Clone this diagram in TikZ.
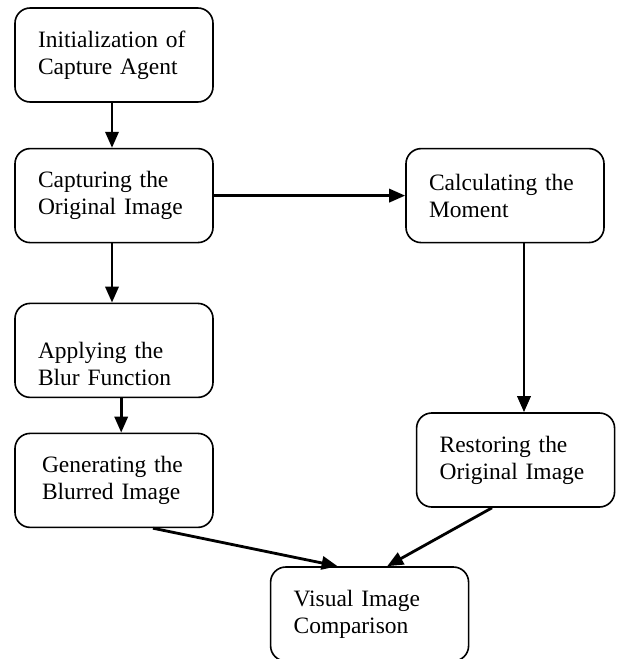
\documentclass[tikz,border=0pt]{standalone}
\usepackage{fontspec}
\setmainfont{Liberation Serif}
\usetikzlibrary{arrows.meta}

\begin{document}
\begin{tikzpicture}[
  stage/.style={draw, line width=1.15pt, rounded corners=0.38cm, minimum width=4.95cm, minimum height=2.35cm,
    text width=3.8cm, inner xsep=0pt, align=left, font=\fontsize{16.7}{19.2}\selectfont},
  flow/.style={line width=2pt, -{Triangle[length=0.4cm,width=0.33cm]}}]
\useasboundingbox (0,0) rectangle (15.55,-16.475);

\node[stage] (init) at (2.85,-1.375) {Initialization of\\Capture Agent};
\node[stage] (capture) at (2.85,-4.89) {Capturing the\\Original Image};
\node[stage] (moment) at (12.625,-4.89) {Calculating the\\Moment};
\node[stage, text height=1.1cm] (blur) at (2.85,-8.76) {Applying the\\Blur Function};
\node[stage] (blurred) at (2.85,-12.01) {\hspace*{0.1cm}Generating the\\\hspace*{0.1cm}Blurred Image};
\node[stage] (restore) at (12.89,-11.5) {Restoring the\\Original Image};
\node[stage] (compare) at (9.24,-15.35) {Visual Image\\Comparison};

\draw[flow] ([xshift=-0.05cm]init.south) -- ([xshift=-0.05cm]capture.north);
\draw[flow] (capture.east) -- (moment.west);
\draw[flow] ([xshift=-0.05cm]capture.south) -- ([xshift=-0.05cm]blur.north);
\draw[flow] ([xshift=0.18cm]blur.south) -- ([xshift=0.18cm]blurred.north);
\draw[flow] ([xshift=0.475cm]moment.south) -- ([xshift=0.475cm]moment.south |- restore.north);
\draw[flow] ([xshift=0.975cm]blurred.south) -- ([xshift=-0.8cm]compare.north);
\draw[flow] ([xshift=-0.59cm]restore.south) -- ([xshift=0.44cm]compare.north);
\end{tikzpicture}
\end{document}
